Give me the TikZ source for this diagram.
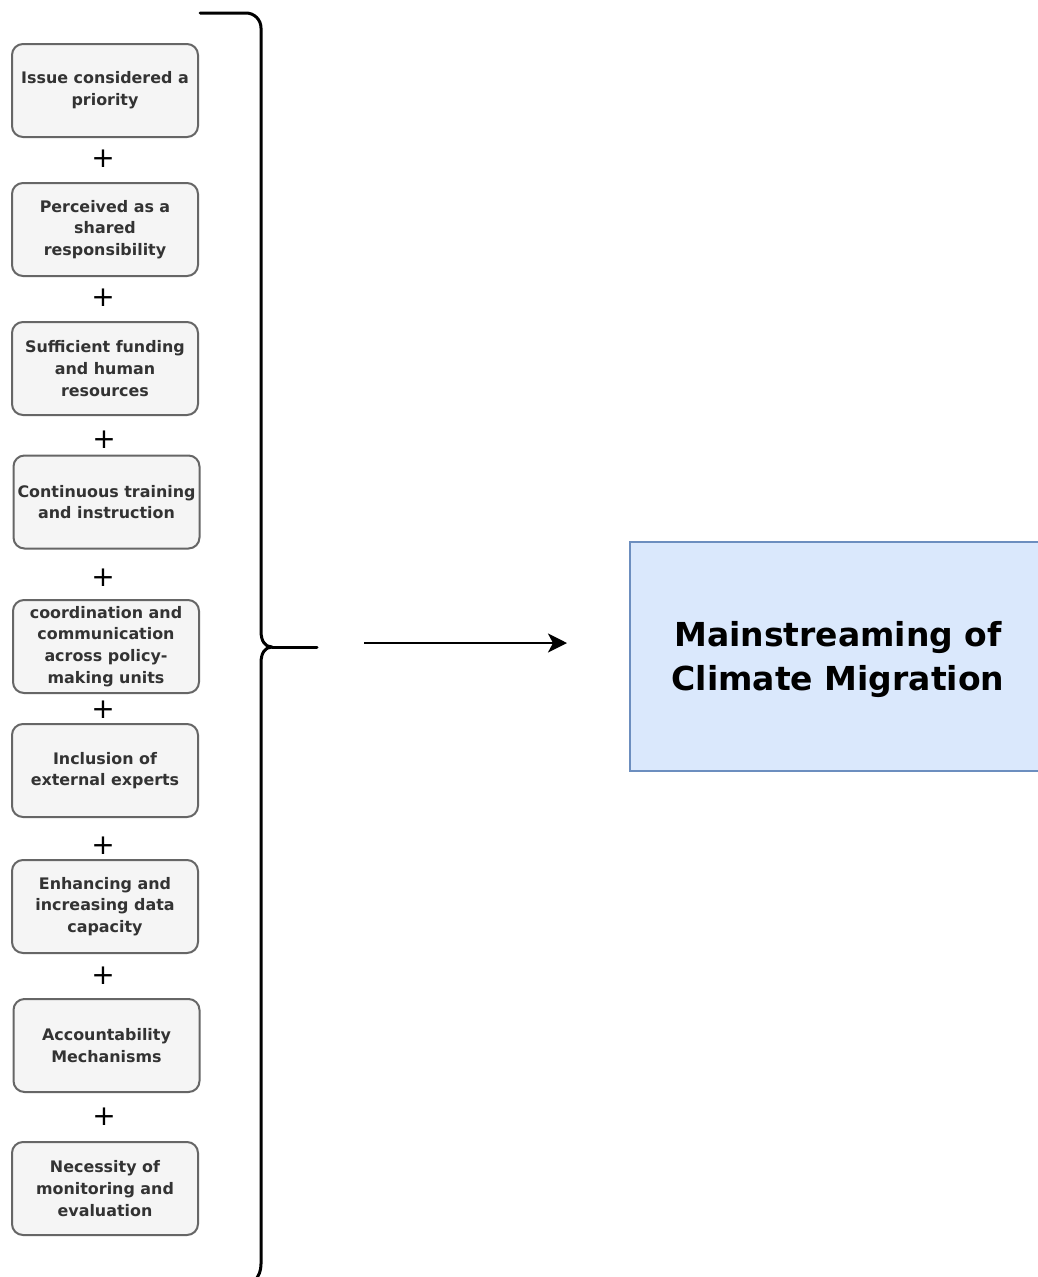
\documentclass[tikz,border=0pt]{standalone}
\usepackage{fontspec}
\setmainfont{DejaVu Sans}
\usetikzlibrary{arrows.meta}
\definecolor{boxfill}{HTML}{F5F5F5}
\definecolor{boxline}{HTML}{666666}
\definecolor{boxtext}{HTML}{333333}
\definecolor{goalfill}{HTML}{DAE8FC}
\definecolor{goalline}{HTML}{6C8EBF}
\tikzset{
  factor/.style={draw=boxline, fill=boxfill, line width=2pt, rounded corners=11pt,
    minimum width=186pt, minimum height=93pt, inner sep=0pt, align=center,
    text=boxtext, font=\fontsize{15.9}{21.7}\selectfont\bfseries},
  plus/.style={inner sep=0pt, font=\fontsize{28}{28}\selectfont, text=black},
  goal/.style={draw=goalline, fill=goalfill, line width=2pt, minimum width=416pt,
    minimum height=229pt, inner sep=0pt},
  goaltext/.style={inner sep=0pt, align=center,
    font=\fontsize{33}{44}\selectfont\bfseries},
  bracket/.style={line width=3pt, line cap=round, line join=round},
  flow/.style={line width=2.5pt, -{Stealth[length=19pt,width=19pt,inset=5pt]}}
}
\begin{document}
\begin{tikzpicture}[x=1pt,y=-1pt]
\useasboundingbox (0,0) rectangle (1038,1277);
\fill[white] (0,0) rectangle (1038,1277);

% contributing factors
\node[factor] (f1) at (105,90.5) {Issue considered a\\priority};
\node[factor] (f2) at (105,229.5) {Perceived as a\\shared\\responsibility};
\node[factor] (f3) at (105,368.5) {Sufficient funding\\and human\\resources};
\node[factor] (f4) at (106.5,502) {Continuous training\\and instruction};
\node[factor] (f5) at (106,646.5) {coordination and\\communication\\across policy-\\making units};
\node[factor] (f6) at (105,770.5) {Inclusion of\\external experts};
\node[factor] (f7) at (105,906.5) {Enhancing and\\increasing data\\capacity};
\node[factor] (f8) at (106.5,1045.5) {Accountability\\Mechanisms};
\node[factor] (f9) at (105,1188.5) {Necessity of\\monitoring and\\evaluation};

% plus signs between the factors
\node[plus] (p1) at (103,159) {+};
\node[plus] (p2) at (103,298) {+};
\node[plus] (p3) at (104,440) {+};
\node[plus] (p4) at (103,578) {+};
\node[plus] (p5) at (103,710) {+};
\node[plus] (p6) at (103,846) {+};
\node[plus] (p7) at (103,976) {+};
\node[plus] (p8) at (104,1117) {+};

% curly bracket grouping all factors
\coordinate (tip) at (272,647);
\coordinate (tipend) at (317,647);
\draw[bracket] (200,13) -- (246,13) .. controls (254.3,13) and (261,19.7) .. (261,28)
  -- (261,631) .. controls (261,641) and (265,647) .. (tip)
  .. controls (265,647) and (261,653) .. (261,663)
  -- (261,1264) .. controls (261,1271) and (259,1275) .. (255,1281);
\draw[bracket] (tip) -- (tipend);

% outcome
\node[goal] (goal) at (838,656.5) {};
\node[goaltext] (goallabel) at ([yshift=-3pt]goal.center) {Mainstreaming of\\Climate Migration};

\coordinate (a0) at (364,643);
\coordinate (a1) at (567,643);
\draw[flow] (a0) -- (a1);
\end{tikzpicture}
\end{document}
